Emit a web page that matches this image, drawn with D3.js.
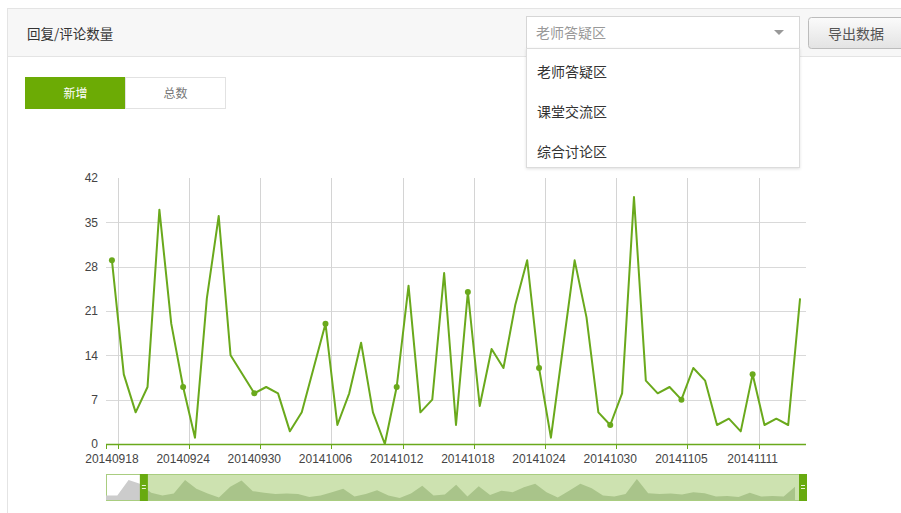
<!DOCTYPE html>
<html>
<head>
<meta charset="utf-8">
<script src="https://cdn.jsdelivr.net/npm/d3@7"></script>
<style>
  body { margin: 0; background: #fff; }
  svg { display: block; }
</style>
</head>
<body>
<svg id="page" width="901" height="513"></svg>
<script>
// categories (whole series, the first few are outside the zoom window)
var dates = [
  "20140915","20140916","20140917","20140918","20140919","20140920","20140921","20140922","20140923","20140924",
  "20140925","20140926","20140927","20140928","20140929","20140930","20141001","20141002","20141003","20141004",
  "20141005","20141006","20141007","20141008","20141009","20141010","20141011","20141012","20141013","20141014",
  "20141015","20141016","20141017","20141018","20141019","20141020","20141021","20141022","20141023","20141024",
  "20141025","20141026","20141027","20141028","20141029","20141030","20141031","20141101","20141102","20141103",
  "20141104","20141105","20141106","20141107","20141108","20141109","20141110","20141111","20141112","20141113",
  "20141114","20141115"
]
// new replies / comments per day
var values = [
  5, 5, 37, 29, 11, 5, 9, 37, 19, 9,
  1, 23, 36, 14, 11, 8, 9, 8, 2, 5,
  12, 19, 3, 8, 16, 5, 0, 9, 25, 5,
  7, 27, 3, 24, 6, 15, 12, 22, 29, 12,
  1, 15, 29, 20, 5, 3, 8, 39, 10, 8,
  9, 7, 12, 10, 3, 4, 2, 11, 3, 4,
  3, 23
]
var zoomStart = 3          // first index shown in the main chart
var labelEvery = 6         // category label interval
var yTicks = [0, 7, 14, 21, 28, 35, 42]
var tabs = ["新增", "总数"]
var zones = ["老师答疑区", "课堂交流区", "综合讨论区"]

var green = "#6aa91c"
var cnFont = "'Noto Sans CJK SC', sans-serif"
var numFont = "'Liberation Sans', Arial, sans-serif"

var svg = d3.select("#page")
var defs = svg.append("defs")

// ---------- panel / header ----------
svg.append("rect")
  .attr("x", 7.5).attr("y", 8.5).attr("width", 920).attr("height", 600)
  .attr("fill", "#fff").attr("stroke", "#e4e4e4")
svg.append("rect")
  .attr("x", 7.5).attr("y", 8.5).attr("width", 920).attr("height", 48)
  .attr("fill", "#f7f7f7").attr("stroke", "#e4e4e4")
svg.append("text")
  .attr("x", 27).attr("y", 32.5)
  .attr("dominant-baseline", "central")
  .style("font-family", cnFont).style("font-size", "13.5px").style("fill", "#333")
  .text("回复/评论数量")

// export button
var grad = defs.append("linearGradient")
  .attr("id", "btn").attr("x1", 0).attr("y1", 0).attr("x2", 0).attr("y2", 1)
grad.append("stop").attr("offset", "0%").attr("stop-color", "#fbfbfb")
grad.append("stop").attr("offset", "100%").attr("stop-color", "#e3e3e3")
svg.append("rect")
  .attr("x", 808.5).attr("y", 17.5).attr("width", 110).attr("height", 31).attr("rx", 3)
  .attr("fill", "url(#btn)").attr("stroke", "#bcbcbc")
svg.append("text")
  .attr("x", 856).attr("y", 33).attr("text-anchor", "middle").attr("dominant-baseline", "central")
  .style("font-family", cnFont).style("font-size", "14px").style("fill", "#555")
  .text("导出数据")

// tabs
var tabW = 100
svg.selectAll("rect.tab")
  .data(tabs)
  .enter()
  .append("rect")
    .attr("class", "tab")
    .attr("x", function(d, i) { return 25.5 + i * tabW })
    .attr("y", 77.5)
    .attr("width", tabW).attr("height", 31)
    .attr("fill", function(d, i) { return i == 0 ? "#6cab05" : "#fff" })
    .attr("stroke", function(d, i) { return i == 0 ? "#6cab05" : "#e2e2e2" })
svg.selectAll("text.tab")
  .data(tabs)
  .enter()
  .append("text")
    .attr("class", "tab")
    .attr("x", function(d, i) { return 75.5 + i * tabW })
    .attr("y", 92.5)
    .attr("text-anchor", "middle").attr("dominant-baseline", "central")
    .style("font-family", cnFont).style("font-size", "12px")
    .style("fill", function(d, i) { return i == 0 ? "#fff" : "#777" })
    .text(function(d) { return d })

// ---------- main chart ----------
var gLeft = 106, gRight = 806, gTop = 178, gBottom = 444
var shownDates = dates.slice(zoomStart)
var shownValues = values.slice(zoomStart)

var x = d3.scaleBand().domain(shownDates).range([gLeft, gRight])
var y = d3.scaleLinear().domain([0, 42]).range([gBottom, gTop])

var labelDates = shownDates.filter(function(d, i) { return i % labelEvery == 0 })

// horizontal grid
svg.selectAll("line.hgrid")
  .data(yTicks.filter(function(d) { return d > 0 && d < 42 }))
  .enter()
  .append("line")
    .attr("class", "hgrid")
    .attr("x1", gLeft).attr("x2", gRight)
    .attr("y1", function(d) { return Math.round(y(d)) + 0.5 })
    .attr("y2", function(d) { return Math.round(y(d)) + 0.5 })
    .attr("stroke", "#d9d9d9")

// vertical split lines at the end of each labelled band
svg.selectAll("line.vgrid")
  .data(labelDates)
  .enter()
  .append("line")
    .attr("class", "vgrid")
    .attr("x1", function(d) { return Math.round(x(d) + x.bandwidth()) + 0.5 })
    .attr("x2", function(d) { return Math.round(x(d) + x.bandwidth()) + 0.5 })
    .attr("y1", gTop).attr("y2", gBottom)
    .attr("stroke", "#d4d4d4")

// y axis labels
var yAxis = svg.append("g")
  .attr("transform", "translate(" + gLeft + ",0)")
  .call(d3.axisLeft(y).tickValues(yTicks).tickSize(0).tickPadding(8))
yAxis.select(".domain").remove()
yAxis.selectAll("text")
  .style("font-family", numFont).style("font-size", "12px").style("fill", "#444")

// x axis line + ticks
svg.append("line")
  .attr("x1", gLeft).attr("x2", gRight)
  .attr("y1", gBottom + 0.5).attr("y2", gBottom + 0.5)
  .attr("stroke", green).attr("stroke-width", 1.5)
svg.selectAll("line.xtick")
  .data([null].concat(labelDates))
  .enter()
  .append("line")
    .attr("class", "xtick")
    .attr("x1", function(d) { return d == null ? gLeft + 0.5 : Math.round(x(d) + x.bandwidth()) + 0.5 })
    .attr("x2", function(d) { return d == null ? gLeft + 0.5 : Math.round(x(d) + x.bandwidth()) + 0.5 })
    .attr("y1", gBottom).attr("y2", gBottom + 5)
    .attr("stroke", green)

var xAxis = svg.append("g")
  .attr("transform", "translate(0," + gBottom + ")")
  .call(d3.axisBottom(x).tickValues(labelDates).tickSize(0).tickPadding(10))
xAxis.select(".domain").remove()
xAxis.selectAll("text")
  .style("font-family", numFont).style("font-size", "12px").style("fill", "#444")

// line
var line = d3.line()
  .x(function(d, i) { return x(shownDates[i]) + x.bandwidth() / 2 })
  .y(function(d) { return y(d) })
svg.append("path")
  .datum(shownValues)
  .attr("d", line)
  .attr("fill", "none")
  .attr("stroke", green)
  .attr("stroke-width", 2)
  .attr("stroke-linejoin", "round")

// symbols only at the labelled categories
svg.selectAll("circle.dot")
  .data(shownValues.map(function(v, i) { return { d: shownDates[i], v: v } })
    .filter(function(p, i) { return i % labelEvery == 0 }))
  .enter()
  .append("circle")
    .attr("class", "dot")
    .attr("cx", function(p) { return x(p.d) + x.bandwidth() / 2 })
    .attr("cy", function(p) { return y(p.v) })
    .attr("r", 3)
    .attr("fill", green)

// ---------- data zoom slider ----------
var zTop = 474, zBottom = 500, zLeft = 106, zRight = 807
var sx = d3.scaleLinear().domain([0, dates.length - 1]).range([zLeft, 795])
var sy = d3.scaleLinear().domain([0, d3.max(values)]).range([498, 479])
var handleW = 8
var winStart = sx(zoomStart)

svg.append("rect")
  .attr("x", zLeft + 0.5).attr("y", zTop + 0.5)
  .attr("width", zRight - zLeft - 1).attr("height", zBottom - zTop)
  .attr("fill", "#fff").attr("stroke", "#a9cd80")

defs.append("clipPath").attr("id", "outside")
  .append("rect").attr("x", zLeft).attr("y", zTop).attr("width", winStart - zLeft).attr("height", zBottom - zTop)
defs.append("clipPath").attr("id", "inside")
  .append("rect").attr("x", winStart).attr("y", zTop).attr("width", zRight - winStart).attr("height", zBottom - zTop)

var area = d3.area()
  .x(function(d, i) { return sx(i) })
  .y0(zBottom)
  .y1(function(d) { return sy(d) })

svg.append("rect")
  .attr("x", winStart).attr("y", zTop + 1)
  .attr("width", zRight - winStart).attr("height", zBottom - zTop - 1)
  .attr("fill", "#cde2b0")
svg.append("path").datum(values).attr("d", area)
  .attr("fill", "#cccccc").attr("clip-path", "url(#outside)")
svg.append("path").datum(values).attr("d", area)
  .attr("fill", "#a9c48a").attr("clip-path", "url(#inside)")

// handles
var handles = [winStart, zRight - handleW]
svg.selectAll("rect.handle")
  .data(handles)
  .enter()
  .append("rect")
    .attr("class", "handle")
    .attr("x", function(d) { return d }).attr("y", zTop)
    .attr("width", handleW).attr("height", zBottom - zTop + 1)
    .attr("fill", "#68aa10")
handles.forEach(function(hx) {
  [485.5, 488.5].forEach(function(hy) {
    svg.append("line")
      .attr("x1", hx + 2).attr("x2", hx + handleW - 2)
      .attr("y1", hy).attr("y2", hy)
      .attr("stroke", "#e8f3d8")
  })
})

// ---------- zone selector (open dropdown) ----------
svg.append("rect")
  .attr("x", 526.5).attr("y", 16.5).attr("width", 273).attr("height", 32)
  .attr("fill", "#fff").attr("stroke", "#d6d6d6")
svg.append("text")
  .attr("x", 536).attr("y", 32).attr("dominant-baseline", "central")
  .style("font-family", cnFont).style("font-size", "14px").style("fill", "#999")
  .text(zones[0])
svg.append("path")
  .attr("d", "M774,30 L784,30 L779,35 Z")
  .attr("fill", "#999")

var shadow = defs.append("filter").attr("id", "shadow")
  .attr("x", "-5%").attr("y", "-5%").attr("width", "110%").attr("height", "120%")
shadow.append("feDropShadow").attr("dx", 0).attr("dy", 1).attr("stdDeviation", 1.5)
  .attr("flood-color", "#000").attr("flood-opacity", 0.12)
svg.append("rect")
  .attr("x", 526.5).attr("y", 48.5).attr("width", 273).attr("height", 119)
  .attr("fill", "#fff").attr("stroke", "#dcdcdc")
  .attr("filter", "url(#shadow)")
svg.selectAll("text.zone")
  .data(zones)
  .enter()
  .append("text")
    .attr("class", "zone")
    .attr("x", 537)
    .attr("y", function(d, i) { return 71 + i * 40 })
    .attr("dominant-baseline", "central")
    .style("font-family", cnFont).style("font-size", "14px").style("fill", "#333")
    .text(function(d) { return d })
</script>
</body>
</html>
